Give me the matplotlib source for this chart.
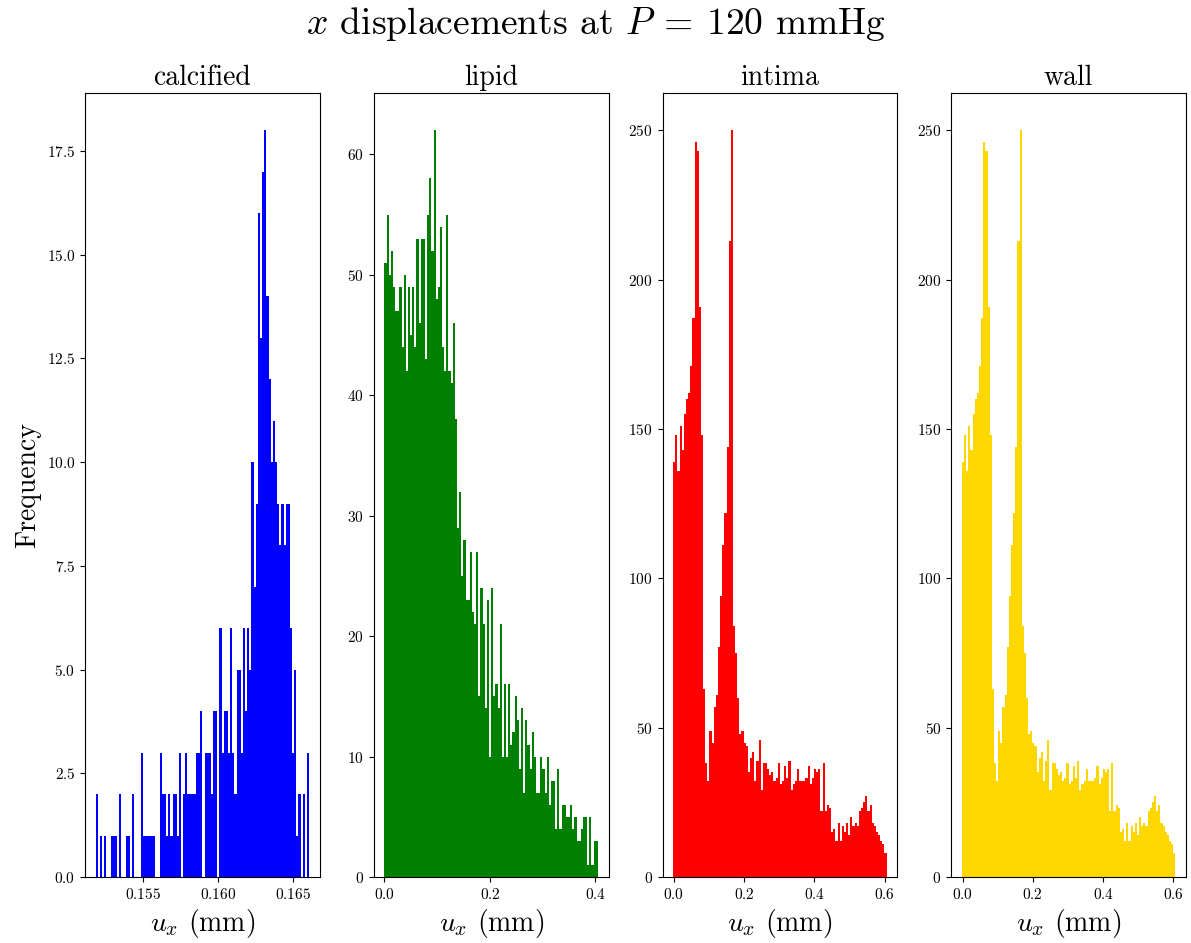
import numpy as np
import matplotlib
matplotlib.use("Agg")
import matplotlib.pyplot as plt
from matplotlib.ticker import MultipleLocator

plt.rcParams['font.family'] = 'serif'
plt.rcParams['font.serif'] = ['cmr10']
plt.rcParams['mathtext.fontset'] = 'cm'
plt.rcParams['axes.formatter.use_mathtext'] = True

# histogram counts (100 bins each)
calcified_counts = [2, 0, 1, 0, 1, 0, 0, 1, 1, 1,
                    0, 2, 0, 0, 1, 1, 0, 2, 0, 0,
                    0, 3, 1, 1, 1, 1, 1, 1, 0, 0,
                    3, 2, 2, 1, 2, 1, 2, 2, 1, 3,
                    0, 2, 3, 2, 2, 2, 2, 3, 3, 4,
                    0, 3, 3, 3, 2, 4, 4, 0, 6, 3,
                    4, 4, 3, 6, 3, 2, 5, 5, 3, 6,
                    4, 6, 5, 10, 7, 9, 16, 13, 17, 18,
                    14, 12, 10, 11, 10, 9, 8, 9, 8, 9,
                    9, 6, 3, 5, 1, 2, 0, 2, 0, 3]
calcified_range = (0.15187, 0.16607)

lipid_counts = [51, 55, 50, 52, 49, 47, 47, 49, 44, 50,
                42, 49, 45, 49, 44, 53, 46, 53, 53, 43,
                55, 58, 52, 62, 48, 49, 54, 44, 42, 55,
                42, 41, 46, 38, 29, 32, 25, 28, 23, 23,
                27, 22, 21, 27, 15, 24, 21, 14, 23, 10,
                24, 15, 16, 14, 21, 10, 16, 10, 16, 11,
                12, 15, 13, 9, 14, 7, 13, 11, 9, 12,
                10, 7, 7, 10, 9, 7, 10, 6, 8, 8,
                4, 9, 4, 6, 6, 5, 5, 6, 4, 5,
                3, 3, 4, 5, 5, 1, 5, 1, 3, 3]
lipid_range = (0.0, 0.4046)

intima_counts = [139, 148, 136, 151, 143, 155, 160, 162, 171, 187,
                 246, 243, 191, 148, 63, 38, 32, 49, 45, 57,
                 61, 77, 94, 111, 122, 144, 213, 250, 84, 75,
                 60, 48, 49, 45, 44, 35, 40, 42, 32, 39,
                 46, 29, 38, 38, 36, 34, 35, 32, 33, 38,
                 31, 32, 37, 33, 39, 29, 31, 32, 36, 32,
                 32, 32, 33, 37, 31, 33, 36, 35, 36, 22,
                 38, 22, 24, 23, 15, 16, 12, 18, 12, 17,
                 15, 18, 14, 20, 17, 18, 17, 22, 23, 25,
                 27, 22, 24, 18, 17, 15, 14, 12, 11, 8]
intima_range = (-0.002, 0.6057)

wall_counts = list(intima_counts)
wall_range = intima_range

titles = ['calcified', 'lipid', 'intima', 'wall']
colors = ['blue', 'green', 'red', 'gold']
x_steps = [0.005, 0.2, 0.2, 0.2]
all_counts = [calcified_counts, lipid_counts, intima_counts, wall_counts]
all_ranges = [calcified_range, lipid_range, intima_range, wall_range]

fig, axes = plt.subplots(1, 4, figsize=(11.91, 9.43), dpi=100)
fig.subplots_adjust(left=0.0714, right=0.9958, bottom=0.070, top=0.9014, wspace=0.23)

for ax, counts, rng, title, color, step in zip(axes, all_counts, all_ranges, titles, colors, x_steps):
    edges = np.linspace(rng[0], rng[1], len(counts) + 1)
    centers = 0.5 * (edges[:-1] + edges[1:])
    ax.hist(centers, bins=edges, weights=counts, color=color)
    ax.xaxis.set_major_locator(MultipleLocator(step))
    ax.set_title(title, fontsize=20)
    ax.set_xlabel(r'$u_x$ (mm)', fontsize=20)
    ax.tick_params(labelsize=11)

axes[0].set_ylabel('Frequency', fontsize=20)
fig.suptitle(r'$x$ displacements at $P\:=\:120$ mmHg', fontsize=27, y=0.995)

fig.savefig('out.png', dpi=100)
